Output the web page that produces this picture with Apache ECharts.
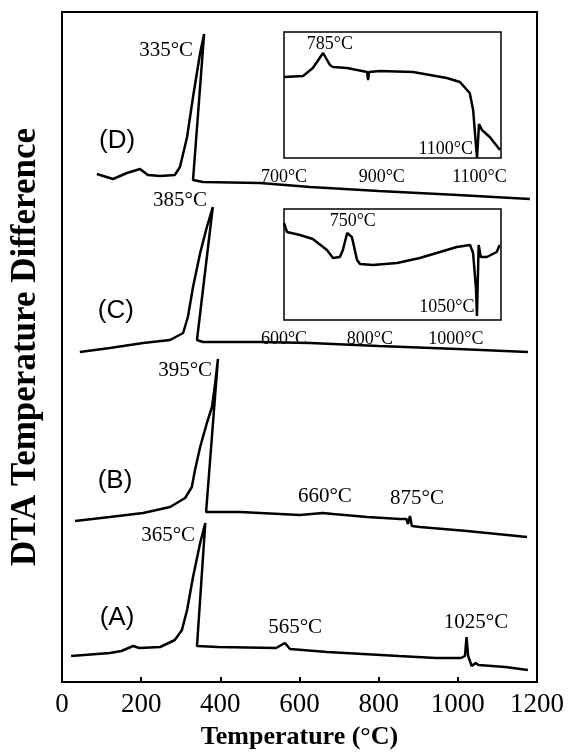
<!DOCTYPE html>
<html>
<head>
<meta charset="utf-8">
<title>DTA curves</title>
<script src="https://cdn.jsdelivr.net/npm/echarts@6/dist/echarts.min.js"></script>
<style>
  html, body { margin: 0; padding: 0; background: #fff; }
  #chart { width: 569px; height: 753px; }
</style>
</head>
<body>
<div id="chart"></div>
<script>
// [temperature °C, signal], curves are offset vertically
const curveA = [[23,26],[121,29],[150,31],[180,36],[195,34],[248,35],[285,42],[303,52],[316,72],[331,105],[349,139],[362,159],[341,36],[394,35],[541,34],[563,39],[576,33],[670,30],[760,28],[851,26],[945,24],[1008,24],[1018,26],[1022,45],[1026,26],[1035,16],[1045,19],[1052,17],[1120,15],[1177,12]];
const curveB = [[33,161],[121,165],[205,169],[273,175],[311,184],[328,195],[336,212],[349,235],[366,259],[379,275],[387,299],[394,323],[364,170],[450,170],[601,167],[659,169],[685,168],[771,165],[854,163],[870,163],[874,158],[879,166],[884,156],[904,155],[1023,151],[1175,145]];
const curveC = [[45,330],[121,334],[205,339],[273,342],[306,349],[318,365],[331,395],[349,429],[366,455],[381,475],[341,342],[356,340],[500,340],[627,339],[800,336],[1000,333],[1177,330]];
const curveD = [[88,508],[129,503],[164,509],[197,513],[217,507],[248,506],[285,507],[298,515],[316,545],[331,585],[349,629],[359,648],[331,502],[356,500],[500,499],[627,495],[800,491],[1000,487],[1182,483]];

// insets: high temperature part of (D) and (C), magnified
const insetD = [[700,81],[739,82],[759,90],[780,105],[794,93],[800,91],[829,90],[870,86],[872,78],[874,86],[896,87],[964,86],[1033,80],[1060,76],[1080,65],[1087,48],[1093,11],[1095,0],[1099,34],[1105,28],[1121,21],[1142,8]];
const insetC = [[600,97],[607,88],[637,85],[667,81],[700,70],[714,62],[730,63],[737,70],[747,87],[749,89],[758,83],[770,60],[777,56],[807,55],[863,57],[916,62],[963,68],[1002,73],[1033,75],[1040,67],[1047,30],[1049,4],[1053,75],[1058,63],[1072,63],[1095,68],[1102,75]];

const insetDTicks = [700, 900, 1100];
const insetCTicks = [600, 800, 1000];

// annotations: text, temperature, signal
const peakLabels = [
  ["335°C", 263, 632], ["385°C", 298, 482], ["395°C", 311, 312], ["365°C", 268, 147],
  ["565°C", 589, 55], ["1025°C", 1046, 60], ["660°C", 664, 186], ["875°C", 897, 184]
];
const curveNames = [["(D)", 139, 541], ["(C)", 136, 371], ["(B)", 134, 201], ["(A)", 139, 64]];
const insetDLabels = [["785°C", 794, 114], ["1100°C", 1031, 9]];
const insetCLabels = [["750°C", 760, 99], ["1050°C", 979, 13]];

const serif = "Liberation Serif";
const sans = "Liberation Sans";

const chart = echarts.init(document.getElementById("chart"));

function lineSeries(data, idx) {
  return {
    type: "line",
    xAxisIndex: idx,
    yAxisIndex: idx,
    data: data,
    showSymbol: false,
    lineStyle: { color: "#000", width: 2.5 },
    silent: true,
  };
}

function textSeries(items, idx, font, size) {
  return {
    type: "scatter",
    xAxisIndex: idx,
    yAxisIndex: idx,
    symbolSize: 0,
    silent: true,
    itemStyle: { opacity: 1 },
    data: items.map(d => ({ name: d[0], value: [d[1], d[2]] })),
    label: {
      show: true,
      position: "inside",
      formatter: "{b}",
      color: "#000",
      fontFamily: font,
      fontSize: size,
    },
  };
}

function insetXAxis(idx, min, max, ticks) {
  return {
    type: "value",
    gridIndex: idx,
    min: min,
    max: max,
    axisLine: { show: false },
    axisTick: { show: false },
    splitLine: { show: false },
    axisLabel: {
      customValues: ticks,
      formatter: v => v + "°C",
      color: "#000",
      fontFamily: serif,
      fontSize: 18,
      margin: 10,
    },
  };
}

function hiddenYAxis(idx, max) {
  return {
    type: "value",
    gridIndex: idx,
    min: 0,
    max: max,
    axisLine: { show: false },
    axisTick: { show: false },
    axisLabel: { show: false },
    splitLine: { show: false },
  };
}

const mainY = hiddenYAxis(0, 670);
mainY.name = "DTA Temperature Difference";
mainY.nameLocation = "middle";
mainY.nameRotate = 90;
mainY.nameGap = 19;
mainY.nameTextStyle = { fontFamily: serif, fontWeight: "bold", fontSize: 35, color: "#000" };

const option = {
  animation: false,
  backgroundColor: "#fff",
  grid: [
    { left: 62, top: 12, width: 475, height: 670, show: true, borderColor: "#000", borderWidth: 2, outerBoundsMode: "none", containLabel: false },
    { left: 284, top: 32, width: 217, height: 126, show: true, borderColor: "#000", borderWidth: 1.5, backgroundColor: "#fff", outerBoundsMode: "none", containLabel: false },
    { left: 284, top: 209, width: 217, height: 111, show: true, borderColor: "#000", borderWidth: 1.5, backgroundColor: "#fff", outerBoundsMode: "none", containLabel: false },
  ],
  xAxis: [
    {
      type: "value",
      gridIndex: 0,
      min: 0,
      max: 1200,
      interval: 200,
      axisLine: { lineStyle: { color: "#000", width: 2 } },
      axisTick: { inside: true, length: 5, lineStyle: { color: "#000", width: 2 } },
      splitLine: { show: false },
      axisLabel: { color: "#000", fontFamily: serif, fontSize: 27, margin: 9, formatter: v => String(v) },
      name: "Temperature (°C)",
      nameLocation: "middle",
      nameGap: 42,
      nameTextStyle: { fontFamily: serif, fontWeight: "bold", fontSize: 26, color: "#000" },
    },
    insetXAxis(1, 700, 1144, insetDTicks),
    insetXAxis(2, 600, 1105, insetCTicks),
  ],
  yAxis: [mainY, hiddenYAxis(1, 126), hiddenYAxis(2, 111)],
  series: [
    lineSeries(curveA, 0),
    lineSeries(curveB, 0),
    lineSeries(curveC, 0),
    lineSeries(curveD, 0),
    lineSeries(insetD, 1),
    lineSeries(insetC, 2),
    textSeries(peakLabels, 0, serif, 21),
    textSeries(curveNames, 0, sans, 26),
    textSeries(insetDLabels, 1, serif, 18),
    textSeries(insetCLabels, 2, serif, 18),
  ],
};

chart.setOption(option);
</script>
</body>
</html>
